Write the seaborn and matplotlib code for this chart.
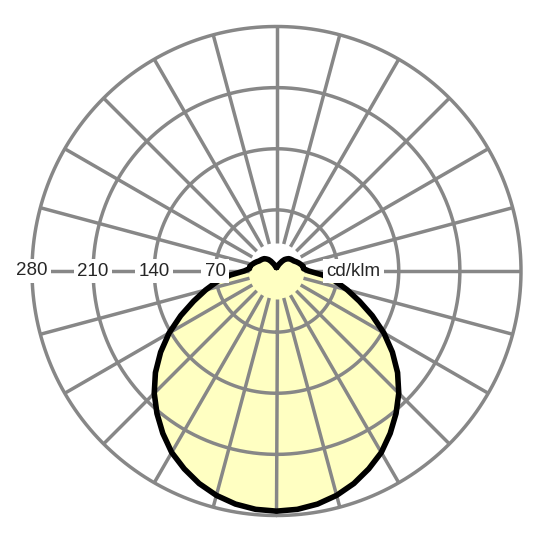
import matplotlib
matplotlib.use("Agg")
import matplotlib.pyplot as plt
import numpy as np
import seaborn as sns

### Data ###
# gamma angle from nadir in degrees, luminous intensity in cd/klm (symmetric C0-C180)
gamma_deg = [0, 5, 10, 15, 20, 25, 30, 35, 40, 45, 50, 55, 60, 65, 70, 75, 80, 85, 90,
             95, 100, 105, 110, 115, 120, 125, 130, 135, 140, 145, 150, 155, 160, 165, 170, 175, 180]
intensity = [275, 274, 271, 266, 259, 250, 240, 227, 213, 198, 181, 162, 142, 121, 101, 84, 69, 53, 37,
             31, 31, 29, 27, 25, 23, 22, 21, 20, 18, 16, 13, 10, 8, 6, 5, 4, 4]
ring_values = [70, 140, 210, 280]
ring_labels = ['70', '140', '210', '280']
unit_label = 'cd/klm'

grid_color = '#878787'
fill_color = '#ffffc2'

sns.set_style('white')
plt.rcParams['font.family'] = ['Liberation Sans', 'DejaVu Sans']

fig = plt.figure(figsize=(5.4, 5.4), dpi=100)
ax = fig.add_axes([32 / 540, 24.5 / 540, 489 / 540, 489 / 540], projection='polar')
ax.set_theta_zero_location('S')
ax.set_theta_direction(1)
ax.set_ylim(0, 280)
ax.axis('off')

# full curve: left half (negative angles) then right half
g = np.deg2rad(np.array(gamma_deg, dtype=float))
cd = np.array(intensity, dtype=float)
theta = np.concatenate([-g[::-1], g[1:]])
r = np.concatenate([cd[::-1], cd[1:]])

# fill under the grid
ax.fill(theta, r, color=fill_color, zorder=1, lw=0)

# rings and spokes
circ = np.linspace(0, 2 * np.pi, 500)
for rv in ring_values:
    ax.plot(circ, np.full_like(circ, rv), color=grid_color, lw=2.5, zorder=2, clip_on=False)
for a in range(0, 360, 15):
    t = np.deg2rad(a)
    ax.plot([t, t], [32, 280], color=grid_color, lw=2.5, zorder=2, clip_on=False,
            solid_capstyle='butt')

# the intensity curve
sns.lineplot(x=theta, y=r, ax=ax, sort=False, estimator=None, color='black',
             lw=4, zorder=3, legend=False)
ax.set_ylim(0, 280)
ax.axis('off')

# labels on the horizontal axis
for rv, lab in zip(ring_values, ring_labels):
    ax.text(np.deg2rad(-90), rv, lab, ha='center', va='center', fontsize=13.5, zorder=4,
            bbox=dict(facecolor='white', edgecolor='none', pad=2.5))
ax.text(np.deg2rad(90), 88, unit_label, ha='center', va='center', fontsize=13.5, zorder=4,
        bbox=dict(facecolor='white', edgecolor='none', pad=2.5))

fig.savefig('out.png', dpi=100, facecolor='white')
